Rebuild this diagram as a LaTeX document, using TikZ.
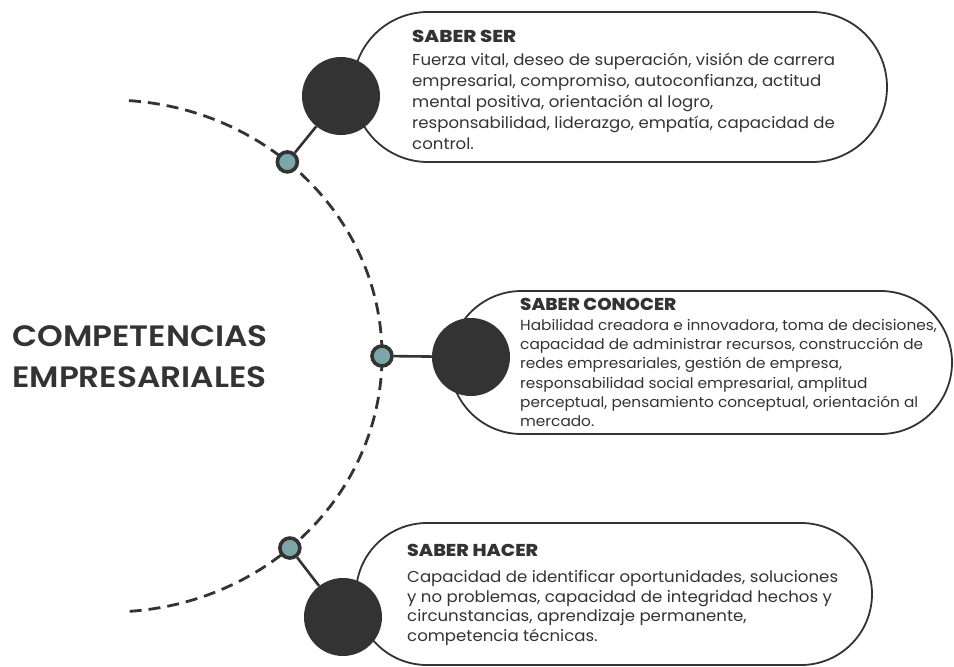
\documentclass[tikz,border=0pt]{standalone}
\usepackage{graphicx}
\usepackage{fontspec}
\setmainfont{Poppins}[FakeStretch=1.05]
\IfFontExistsTF{Poppins SemiBold}{\newfontfamily\titlefont{Poppins SemiBold}[FakeStretch=1.11]}{\newfontfamily\titlefont{Poppins}[FakeStretch=1.11]}
\IfFontExistsTF{Poppins ExtraBold}{\newfontfamily\headfont{Poppins ExtraBold}}{\newfontfamily\headfont{Poppins Bold}}
\newcommand{\boxhead}[2]{\resizebox{#1pt}{12.3pt}{\headfont #2}}
\usetikzlibrary{shapes.misc,calc}
\definecolor{ink}{HTML}{333333}
\definecolor{tealdot}{HTML}{7DA6A9}
\begin{document}
\begin{tikzpicture}[x=1pt,y=-1pt,
  pill/.style={rounded rectangle, draw=ink, line width=1.8pt, fill=white, inner sep=0},
  bigdot/.style={circle, fill=ink, minimum size=78pt, inner sep=0},
  smalldot/.style={circle, draw=ink, line width=3.6pt, fill=tealdot, minimum size=20pt, inner sep=0},
  link/.style={draw=ink, line width=2.6pt},
  track/.style={draw=ink, line width=2.8pt, dash pattern=on 12pt off 7pt},
  txt/.style={anchor=base west, inner sep=0, text=ink}]
\useasboundingbox (0,0) rectangle (954,667);

% boxes
\node[pill, minimum width=534pt, minimum height=150pt] (box1) at (620,87) {};
\node[pill, minimum width=502pt, minimum height=143pt] (box2) at (701,362.5) {};
\node[pill, minimum width=516pt, minimum height=142pt] (box3) at (614,594) {};

% big dots
\node[bigdot] (c1) at (341,96) {};
\node[bigdot] (c2) at (471,357) {};
\node[bigdot] (c3) at (343,617) {};

% dashed track
\draw[track] (110,356) ++(-86:272 and 256) coordinate (tstart)
  arc[start angle=-86, end angle=86, x radius=272, y radius=256] coordinate (tend);

% small dots
\node[smalldot] (s1) at ($(110,356)+(-49.3:272 and 256)$) {};
\node[smalldot] (s2) at (382,356) {};
\node[smalldot] (s3) at ($(110,356)+(48.6:272 and 256)$) {};

\draw[link] (s1) -- (c1);
\draw[link] (s2) -- (c2);
\draw[link] (s3) -- (c3);

% title
\node[txt] (title) at (12,346) {\titlefont\fontsize{29.5}{41}\selectfont
  \begin{tabular}[t]{@{}l@{}}COMPETENCIAS\\EMPRESARIALES\end{tabular}};

% texts
\node[txt] (t1) at (412,42) {\fontsize{15.8}{21}\selectfont
  \begin{tabular}[t]{@{}l@{}}\boxhead{104}{SABER SER}\\[2pt]
  Fuerza vital, deseo de superación, visión de carrera\\
  empresarial, compromiso, autoconfianza, actitud\\
  mental positiva, orientación al logro,\\
  responsabilidad, liderazgo, empatía, capacidad de\\
  control.\end{tabular}};

\node[txt] (t2) at (520,310) {\fontsize{14.6}{19.3}\selectfont
  \begin{tabular}[t]{@{}l@{}}\boxhead{156}{SABER CONOCER}\\[1pt]
  Habilidad creadora e innovadora, toma de decisiones,\\
  capacidad de administrar recursos, construcción de\\
  redes empresariales, gestión de empresa,\\
  responsabilidad social empresarial, amplitud\\
  perceptual, pensamiento conceptual, orientación al\\
  mercado.\end{tabular}};

\node[txt] (t3) at (407,556) {\fontsize{15.8}{19.5}\selectfont
  \begin{tabular}[t]{@{}l@{}}\boxhead{131}{SABER HACER}\\[7pt]
  Capacidad de identificar oportunidades, soluciones\\
  y no problemas, capacidad de integridad hechos y\\
  circunstancias, aprendizaje permanente,\\
  competencia técnicas.\end{tabular}};
\end{tikzpicture}
\end{document}
